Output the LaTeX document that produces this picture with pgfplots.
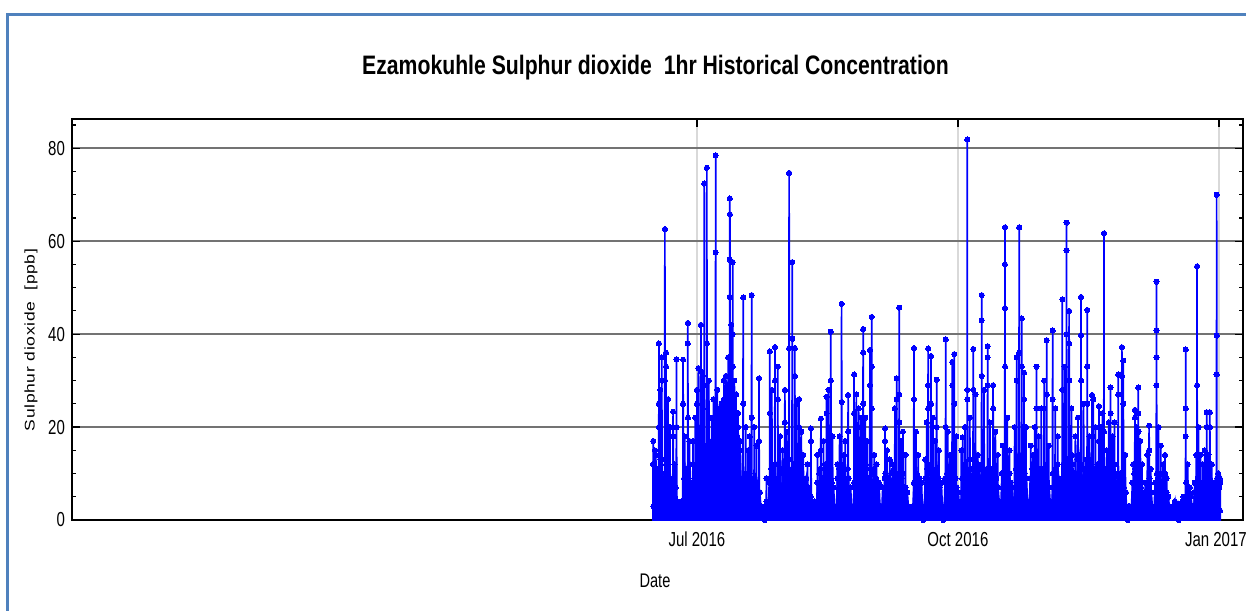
\documentclass[border=0pt]{standalone}
\usepackage{fontspec}
\setmainfont{Liberation Sans}
\usepackage{graphicx}
\usepackage{pgfplots}
\pgfplotsset{compat=1.18}
\definecolor{frameblue}{RGB}{79,129,189}
\newcommand\tl[1]{\scalebox{1}[1.35]{#1}}

\begin{document}
\begin{tikzpicture}[x=0.5pt,y=0.5pt]
\useasboundingbox (0,0) rectangle (1246,610);
% outer frame
\draw[frameblue, line width=1.5pt] (7,-10) -- (7,595) -- (1270,595);
% title
\node[font=\fontsize{10.6}{12}\selectfont\bfseries] at (655.5,542)
  {\scalebox{1}[1.26]{Ezamokuhle Sulphur dioxide\ \ 1hr Historical Concentration}};

\begin{axis}[
  at={(36pt,45pt)}, anchor=south west,
  scale only axis, width=585.5pt, height=200.5pt,
  xmin=-220.3, xmax=192.5, ymin=0, ymax=86.3,
  % days counted from 1 Jul 2016
  xtick={0,92,184},
  xticklabels={\tl{Jul 2016},\tl{Oct 2016},\tl{\hspace*{-3pt}Jan 2017}},
  ytick={0,20,40,60,80},
  yticklabels={\tl{0},\tl{20},\tl{40},\tl{60},\tl{80}},
  minor ytick={5,10,15,25,30,35,45,50,55,65,70,75,85},
  tick align=inside, major tick length=4pt, minor tick length=2pt,
  xtick pos=both, ytick pos=both, xticklabel pos=lower, yticklabel pos=left,
  tick style={black, line width=0.6pt},
  axis line style={black, line width=1pt},
  ymajorgrids, xmajorgrids,
  y grid style={black!55, line width=0.9pt},
  x grid style={black!15, line width=0.9pt},
  ticklabel style={font=\fontsize{7.5}{8}\selectfont, text=black},
  xticklabel style={yshift=-2.5pt},
  sdata/.style={color=blue, line width=0.85pt, mark=*, mark size=1.3pt,
    mark options={solid, fill=blue, draw=blue, line width=0pt}},
]
% hourly background band (one value every 8 h)
\addplot[sdata, fill=blue] table[row sep=\\, header=false, x expr=\coordindex/3-15.5, y index=0] {
12\\3\\9\\ 14\\2\\10\\ 11\\4\\13\\ 13\\2\\8\\ 10\\3\\12\\ 9\\1\\7\\
8\\2\\6\\ 9\\1\\5\\ 7\\2\\4\\
3\\1\\2\\ 4\\1\\3\\
9\\2\\11\\ 10\\1\\8\\ 12\\3\\7\\ 8\\2\\9\\
6\\1\\5\\
12\\3\\14\\ 15\\2\\10\\ 11\\4\\16\\ 14\\3\\12\\ 13\\2\\15\\ 16\\4\\11\\ 12\\3\\14\\
18\\5\\22\\ 24\\6\\20\\ 26\\8\\22\\ 21\\5\\25\\ 28\\7\\23\\ 24\\6\\26\\ 20\\5\\18\\ 17\\4\\15\\
9\\2\\7\\ 8\\1\\10\\ 7\\2\\6\\ 10\\3\\8\\ 6\\1\\9\\ 8\\2\\7\\ 5\\1\\6\\
3\\1\\2\\ 2\\0\\3\\ 4\\1\\3\\
8\\2\\11\\ 10\\1\\9\\ 12\\3\\8\\ 9\\2\\10\\ 11\\1\\7\\ 10\\3\\12\\ 8\\2\\9\\ 13\\3\\10\\ 11\\2\\12\\ 9\\1\\8\\
8\\2\\6\\ 7\\1\\9\\ 6\\2\\8\\ 9\\1\\7\\ 7\\2\\5\\
3\\1\\2\\ 4\\1\\3\\
8\\2\\10\\ 11\\1\\9\\ 9\\3\\12\\ 10\\2\\8\\ 12\\2\\9\\ 8\\1\\7\\
3\\1\\2\\
9\\2\\11\\ 12\\1\\8\\ 10\\3\\9\\ 8\\2\\11\\ 9\\1\\7\\
3\\1\\2\\
8\\2\\10\\ 11\\1\\9\\ 9\\2\\12\\ 10\\3\\8\\ 12\\1\\9\\ 9\\2\\11\\ 8\\1\\10\\ 11\\2\\9\\ 7\\1\\8\\
3\\1\\2\\
7\\2\\9\\ 10\\1\\8\\ 9\\2\\7\\ 8\\1\\10\\ 11\\2\\8\\ 9\\3\\10\\ 8\\1\\9\\ 10\\2\\7\\ 7\\1\\6\\
3\\1\\2\\ 2\\1\\3\\
8\\2\\9\\ 10\\1\\7\\ 9\\2\\8\\
2\\0\\3\\
9\\2\\11\\ 10\\1\\8\\ 12\\2\\9\\ 8\\3\\10\\ 11\\1\\9\\ 7\\2\\8\\
3\\0\\2\\
9\\2\\10\\ 11\\1\\8\\ 10\\3\\12\\ 8\\2\\9\\ 7\\1\\6\\
3\\1\\4\\
9\\2\\11\\ 12\\1\\10\\ 10\\3\\13\\ 11\\2\\9\\ 13\\1\\10\\ 9\\2\\12\\ 11\\3\\9\\ 12\\2\\10\\ 10\\1\\11\\ 9\\2\\8\\ 11\\1\\10\\ 8\\2\\9\\ 9\\1\\7\\
4\\1\\3\\
10\\2\\9\\ 12\\1\\11\\ 9\\3\\10\\ 8\\1\\7\\
4\\1\\3\\
11\\2\\13\\ 12\\3\\10\\ 13\\2\\11\\ 10\\1\\9\\
4\\1\\3\\
9\\2\\11\\ 10\\1\\8\\ 12\\2\\10\\ 9\\3\\11\\ 11\\1\\9\\ 10\\2\\12\\ 8\\1\\7\\
4\\1\\3\\
10\\2\\9\\ 11\\1\\12\\ 9\\2\\8\\
6\\2\\5\\
12\\3\\10\\ 13\\2\\11\\ 11\\1\\14\\ 12\\3\\10\\ 10\\2\\13\\ 14\\1\\11\\ 12\\3\\9\\ 11\\2\\13\\ 10\\1\\12\\ 13\\2\\10\\
10\\2\\9\\ 11\\1\\12\\ 9\\3\\10\\ 12\\2\\8\\ 10\\1\\11\\ 8\\2\\10\\ 11\\1\\9\\ 9\\2\\12\\ 10\\1\\8\\
9\\2\\10\\ 8\\1\\9\\ 7\\2\\6\\
2\\0\\3\\ 3\\1\\2\\
8\\2\\10\\ 11\\1\\9\\ 9\\2\\8\\ 7\\1\\6\\
3\\1\\2\\
8\\2\\7\\ 9\\1\\6\\
3\\1\\2\\
8\\2\\10\\ 9\\1\\7\\ 10\\2\\8\\ 8\\1\\9\\ 6\\2\\5\\
3\\1\\2\\ 2\\1\\3\\ 4\\1\\2\\ 3\\0\\2\\ 2\\1\\4\\ 3\\1\\2\\
8\\2\\7\\ 6\\1\\5\\
3\\1\\2\\
8\\2\\7\\ 9\\1\\6\\ 7\\2\\8\\ 6\\1\\5\\ 8\\2\\9\\ 7\\1\\6\\ 5\\2\\7\\ 8\\1\\6\\
9\\2\\7\\
8\\
} \closedcycle;
% peaks
\addplot[sdata] coordinates {
(-15.45,12)(-15.4,17)(-15.3,3)
(-14.9,2)(-14.8,15)(-14.7,2)
(-13.5,2)(-13.42,25)(-13.4,38)(-13.38,20)(-13.3,2)
(-13.0,2)(-12.9,28)(-12.8,2)
(-12.5,2)(-12.4,30)(-12.38,35)(-12.3,2)
(-11.4,2)(-11.3,62.6)(-11.28,30)(-11.2,2)
(-11.0,2)(-10.9,36)(-10.88,33)(-10.8,2)
(-10.3,2)(-10.2,26)(-10.1,2)
(-9.6,2)(-9.5,20)(-9.4,2)
(-8.5,2)(-8.4,23.3)(-8.38,18)(-8.3,2)
(-8.0,2)(-7.9,12)(-7.8,2)
(-7.3,2)(-7.2,34.6)(-7.18,20)(-7.1,1)
(-5.0,1)(-4.9,25)(-4.88,34.5)(-4.8,2)
(-4.4,2)(-4.3,18)(-4.2,2)
(-3.3,2)(-3.22,38)(-3.2,42.4)(-3.18,22)(-3.1,2)
(-2.7,2)(-2.6,17)(-2.5,2)
(-1.5,2)(-1.4,17)(-1.38,12)(-1.3,2)
(-0.7,2)(-0.6,22)(-0.5,2)
(-0.1,2)(0,28)(0.02,25)(0.1,2)
(0.4,2)(0.5,32.7)(0.6,20)(0.7,2)
(1.3,2)(1.4,42)(1.42,32)(1.5,2)
(1.9,2)(2.0,31)(2.02,24)(2.1,2)
(2.5,2)(2.6,72.4)(2.62,29)(2.7,2)
(3.4,2)(3.5,75.8)(3.52,38)(3.6,2)
(4.1,2)(4.2,30)(4.3,2)
(5.1,2)(5.2,22)(5.22,17)(5.3,2)
(5.7,2)(5.8,26)(5.9,2)
(6.5,2)(6.58,57.6)(6.6,78.5)(6.62,20)(6.7,2)
(7.1,2)(7.2,28)(7.3,2)
(7.7,2)(7.8,24)(7.9,2)
(8.6,3)(8.7,25)(8.72,22)(8.8,3)
(9.4,3)(9.5,30)(9.6,3)
(10.1,3)(10.2,31)(10.22,28)(10.3,3)
(10.9,3)(11.0,35)(11.1,3)
(11.5,3)(11.56,48)(11.58,56)(11.6,69.2)(11.62,65.8)(11.7,3)
(12.0,3)(12.1,42)(12.2,3)
(12.5,3)(12.6,55.5)(12.62,40)(12.64,33)(12.7,3)
(13.1,3)(13.2,30)(13.3,3)
(13.7,3)(13.8,27)(13.9,3)
(14.4,3)(14.5,23)(14.52,20)(14.6,3)
(15.2,2)(15.3,17)(15.4,2)
(16.2,2)(16.3,47.9)(16.32,25)(16.4,2)
(17.1,2)(17.2,20)(17.3,2)
(17.9,2)(18.0,15)(18.1,2)
(18.5,2)(18.6,18)(18.7,2)
(19.2,2)(19.3,48.4)(19.32,22)(19.4,2)
(20.1,2)(20.2,20)(20.3,2)
(20.9,2)(21.0,16)(21.1,2)
(21.8,2)(21.9,30.5)(21.92,17)(22.0,1)
(24.4,1)(24.5,9)(24.6,1)
(25.6,2)(25.7,36.3)(25.72,23)(25.8,2)
(26.3,2)(26.4,28)(26.5,2)
(27.4,2)(27.5,37.2)(27.52,30)(27.6,2)
(28.4,2)(28.5,33)(28.52,26)(28.6,2)
(29.2,2)(29.3,18)(29.4,2)
(30.1,2)(30.2,15)(30.3,2)
(30.9,2)(31.0,28)(31.02,21)(31.1,2)
(31.6,2)(31.7,19)(31.8,2)
(32.4,2)(32.5,74.7)(32.52,37)(32.6,2)
(33.5,2)(33.6,55.5)(33.62,39)(33.7,2)
(34.4,2)(34.5,37)(34.52,31)(34.6,2)
(35.1,2)(35.2,25)(35.3,2)
(35.9,2)(36.0,26)(36.02,20)(36.1,2)
(36.7,2)(36.8,19)(36.9,2)
(37.4,2)(37.5,14)(37.6,2)
(38.9,2)(39.0,12)(39.1,2)
(40.1,1)(40.2,19.7)(40.22,17)(40.3,1)
(42.4,2)(42.5,14)(42.6,2)
(43.6,2)(43.7,21.8)(43.72,15)(43.8,2)
(44.5,2)(44.6,17)(44.7,2)
(45.6,2)(45.7,26.5)(45.72,23)(45.8,2)
(46.3,2)(46.4,28)(46.5,2)
(47.1,2)(47.2,40.5)(47.22,30)(47.3,2)
(47.7,2)(47.8,18)(47.9,1)
(49.4,1)(49.5,12)(49.6,2)
(50.2,2)(50.3,18)(50.4,2)
(50.9,2)(51.0,46.5)(51.02,25.4)(51.1,2)
(51.7,2)(51.8,14)(51.9,2)
(52.2,2)(52.3,17)(52.4,2)
(53.2,2)(53.3,26.9)(53.32,19)(53.4,2)
(55.3,2)(55.4,31.3)(55.42,23)(55.5,2)
(56.1,2)(56.2,27)(56.3,2)
(56.9,2)(57.0,24)(57.02,20)(57.1,2)
(57.7,2)(57.8,22)(57.9,2)
(58.5,2)(58.58,36)(58.6,41.1)(58.62,25)(58.7,2)
(59.2,2)(59.3,22)(59.4,2)
(59.9,2)(60.0,17)(60.1,2)
(60.9,2)(61.0,36.6)(61.02,29)(61.1,2)
(61.5,2)(61.58,33)(61.6,43.7)(61.62,24)(61.7,2)
(62.4,2)(62.5,14)(62.6,2)
(63.2,2)(63.3,12)(63.4,1)
(66.2,2)(66.3,19.7)(66.32,17)(66.4,2)
(66.9,2)(67.0,15)(67.1,2)
(67.9,2)(68.0,13)(68.1,2)
(68.9,2)(69.0,12)(69.1,2)
(69.7,2)(69.8,24)(69.9,2)
(70.3,2)(70.4,30.5)(70.42,26)(70.5,2)
(71.2,2)(71.28,27)(71.3,45.7)(71.32,21)(71.4,2)
(71.9,2)(72.0,17)(72.1,2)
(72.5,2)(72.6,19)(72.7,2)
(73.4,2)(73.5,14)(73.6,1)
(76.4,2)(76.5,37)(76.52,26)(76.6,2)
(77.1,2)(77.2,19)(77.3,2)
(77.9,2)(78.0,14)(78.1,1)
(80.4,1)(80.5,13)(80.6,2)
(80.9,2)(81.0,21)(81.1,2)
(81.4,2)(81.48,29)(81.5,36.9)(81.52,24)(81.6,2)
(82.4,2)(82.5,35.3)(82.52,25)(82.6,2)
(83.1,2)(83.2,22)(83.3,2)
(83.9,2)(84.0,17)(84.1,2)
(84.4,2)(84.5,30.2)(84.52,20)(84.6,2)
(85.2,2)(85.3,15)(85.4,1)
(87.6,1)(87.7,38.9)(87.72,20)(87.8,2)
(88.3,2)(88.4,19)(88.5,2)
(89.1,2)(89.2,14)(89.3,2)
(89.9,2)(90.0,34)(90.02,29)(90.1,2)
(90.6,2)(90.7,35.7)(90.72,25)(90.8,2)
(91.3,2)(91.4,18)(91.5,1)
(93.1,1)(93.2,15)(93.3,2)
(93.6,2)(93.7,17.8)(93.8,2)
(94.4,2)(94.5,20)(94.6,2)
(95.2,2)(95.28,28)(95.3,81.9)(95.32,26)(95.4,2)
(96.1,2)(96.2,22)(96.3,2)
(97.3,2)(97.4,36.8)(97.42,28)(97.5,2)
(98.1,2)(98.2,27)(98.3,2)
(98.9,2)(99.0,14)(99.1,2)
(100.3,2)(100.38,43)(100.4,48.4)(100.42,31)(100.5,2)
(101.1,2)(101.2,28)(101.3,2)
(102.4,2)(102.48,35)(102.5,37.4)(102.52,29)(102.6,2)
(103.2,2)(103.3,21)(103.4,2)
(104.3,2)(104.4,29)(104.42,24)(104.5,2)
(105.1,2)(105.2,19)(105.3,2)
(105.9,2)(106.0,14)(106.1,1)
(107.7,1)(107.8,16)(107.9,2)
(108.5,2)(108.56,45.6)(108.58,55)(108.6,63)(108.62,33)(108.7,2)
(109.3,2)(109.4,22)(109.5,2)
(110.1,2)(110.2,15)(110.3,1)
(111.9,1)(112.0,20)(112.1,2)
(112.6,2)(112.7,35)(112.72,30)(112.8,2)
(113.5,2)(113.6,63)(113.62,36)(113.7,2)
(114.4,2)(114.5,43.4)(114.52,33)(114.6,2)
(115.2,2)(115.3,31.7)(115.32,26)(115.4,2)
(115.9,2)(116.0,20)(116.1,1)
(117.6,1)(117.7,16)(117.8,2)
(118.4,2)(118.5,14)(118.6,2)
(119.0,2)(119.1,20)(119.2,2)
(119.6,2)(119.7,33)(119.72,24)(119.8,2)
(120.4,2)(120.5,18)(120.6,2)
(121.3,2)(121.4,24)(121.5,2)
(122.3,2)(122.4,30)(122.42,24)(122.5,2)
(123.2,2)(123.3,38.7)(123.32,27)(123.4,2)
(123.9,2)(124.0,16)(124.1,1)
(125.3,1)(125.4,40.8)(125.42,26)(125.5,2)
(126.2,2)(126.3,24)(126.4,2)
(127.1,2)(127.2,18)(127.3,2)
(128.7,2)(128.8,47.5)(128.82,28)(128.9,2)
(129.5,2)(129.6,33)(129.7,2)
(130.2,2)(130.28,58)(130.3,64)(130.32,40)(130.4,2)
(131.1,2)(131.18,38)(131.2,45)(131.22,30)(131.3,2)
(131.9,2)(132.0,24)(132.1,2)
(133.3,2)(133.4,18)(133.5,2)
(134.2,2)(134.3,22)(134.4,2)
(135.3,2)(135.38,39.8)(135.4,48)(135.42,30)(135.5,2)
(136.2,2)(136.3,25)(136.4,2)
(137.5,2)(137.58,33)(137.6,45.2)(137.62,25)(137.7,2)
(138.3,2)(138.4,18)(138.5,2)
(139.2,2)(139.3,26.9)(139.4,2)
(139.6,2)(139.7,26)(139.72,18)(139.8,2)
(140.4,2)(140.5,20)(140.6,2)
(141.6,2)(141.7,24.5)(141.72,17)(141.8,2)
(142.3,2)(142.4,20)(142.5,2)
(142.9,2)(143.0,23)(143.1,2)
(143.4,2)(143.5,61.7)(143.52,19)(143.6,2)
(144.4,2)(144.5,15)(144.6,2)
(145.1,2)(145.2,21)(145.3,2)
(145.7,2)(145.8,28.5)(145.82,23)(145.9,2)
(146.4,2)(146.5,18)(146.6,2)
(147.1,2)(147.2,21)(147.3,2)
(148.4,2)(148.5,31.3)(148.52,27)(148.6,2)
(149.7,2)(149.8,37.2)(149.82,31)(149.9,2)
(150.2,2)(150.3,34.3)(150.32,25)(150.4,2)
(150.9,2)(151.0,14)(151.1,1)
(153.7,1)(153.8,12)(153.9,2)
(154.3,2)(154.4,23.7)(154.42,22)(154.5,2)
(154.9,2)(155.0,20)(155.1,2)
(155.5,2)(155.58,23)(155.6,28.5)(155.62,19)(155.7,2)
(156.2,2)(156.3,17)(156.4,2)
(156.8,2)(156.9,12)(157.0,1)
(157.9,1)(158.0,8)(158.1,1)
(158.7,1)(158.8,14)(158.9,2)
(159.3,2)(159.4,20.3)(159.42,15)(159.5,2)
(159.9,2)(160.0,11)(160.1,1)
(161.9,1)(161.96,29)(161.98,35)(162.0,51.3)(162.02,40.8)(162.1,2)
(162.6,2)(162.7,20)(162.8,2)
(163.4,2)(163.5,16)(163.6,2)
(164.2,2)(164.3,12)(164.4,2)
(164.9,2)(165.0,14)(165.02,10)(165.1,2)
(165.5,2)(165.6,9)(165.7,1)
(167.9,1)(168.0,3)(168.1,1)
(169.4,1)(169.5,3.5)(169.6,1)
(170.4,1)(170.5,2.5)(170.6,1)
(171.4,1)(171.5,5)(171.6,1)
(172.2,1)(172.28,18)(172.3,36.7)(172.32,24)(172.4,2)
(172.9,2)(173.0,12)(173.1,2)
(173.7,1)(173.8,7)(173.9,1)
(175.2,1)(175.3,6)(175.4,1)
(175.9,1)(176.0,14)(176.1,2)
(176.2,2)(176.3,54.6)(176.32,29)(176.4,2)
(176.7,2)(176.8,20)(176.9,2)
(177.4,2)(177.5,14)(177.6,2)
(178.2,2)(178.3,12)(178.4,2)
(178.9,2)(179.0,15)(179.1,2)
(179.6,2)(179.7,23.2)(179.72,20)(179.8,2)
(180.2,2)(180.3,14)(180.4,2)
(180.7,2)(180.8,23.2)(180.82,20)(180.9,2)
(181.4,2)(181.5,12)(181.6,2)
(182.1,2)(182.2,8)(182.3,2)
(183.1,2)(183.18,31.3)(183.2,70)(183.22,39.7)(183.3,2)
(183.6,2)(183.7,10)(183.8,2)
(184.2,2)(184.3,9)(184.4,2)
};
\end{axis}

\node[font=\fontsize{7.3}{8}\selectfont] at (655,29) {\tl{Date}};
\node[rotate=90, font=\fontsize{7}{8}\selectfont] at (31,270)
  {\scalebox{1.25}[1]{\addfontfeatures{LetterSpace=4}Sulphur dioxide\ \ [ppb]}};
\end{tikzpicture}
\end{document}
